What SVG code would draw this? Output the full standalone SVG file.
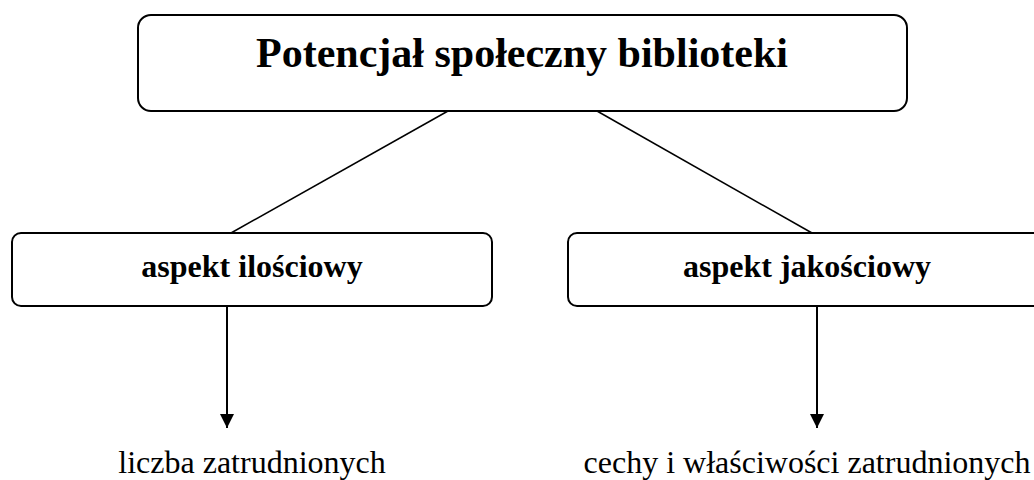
<svg xmlns="http://www.w3.org/2000/svg" width="1034" height="480" viewBox="0 0 1034 480">
<style>
.box{fill:#fff;stroke:#000;stroke-width:2}
.hd{font-family:"Liberation Serif","Times New Roman",serif;font-weight:bold;fill:#000;text-anchor:middle}
.tx{font-family:"Liberation Serif","Times New Roman",serif;fill:#000;font-size:32px;text-anchor:middle}
.ln{stroke:#000;stroke-width:1.5;fill:none}
.ar{stroke:#000;stroke-width:2;fill:none}
</style>
<defs>
<marker id="ah" viewBox="0 0 14 14" refX="14" refY="7" markerWidth="14" markerHeight="14" markerUnits="userSpaceOnUse" orient="auto">
<path d="M0,0 L14,7 L0,14 Z" fill="#000"/>
</marker>
</defs>
<rect width="1034" height="480" fill="#fff"/>
<g id="connectors">
<line class="ln" x1="448" y1="111" x2="231" y2="233"/>
<line class="ln" x1="597" y1="111" x2="812" y2="233"/>
<line class="ar" x1="227" y1="307" x2="227" y2="428" marker-end="url(#ah)"/>
<line class="ar" x1="817" y1="307" x2="817" y2="428" marker-end="url(#ah)"/>
</g>
<g id="root">
<rect class="box" x="138" y="15" width="769" height="96" rx="13"/>
<text class="hd" x="522" y="67" font-size="42">Potencjał społeczny biblioteki</text>
</g>
<g id="ilosciowy">
<rect class="box" x="12" y="233" width="480" height="73" rx="9"/>
<text class="hd" x="252" y="277" font-size="32">aspekt ilościowy</text>
</g>
<g id="jakosciowy">
<rect class="box" x="568" y="233" width="480" height="73" rx="9"/>
<text class="hd" x="807" y="277" font-size="32">aspekt jakościowy</text>
</g>
<g id="liczba">
<text class="tx" x="252" y="473">liczba zatrudnionych</text>
</g>
<g id="cechy">
<text class="tx" x="807" y="473">cechy i właściwości zatrudnionych</text>
</g>
</svg>
